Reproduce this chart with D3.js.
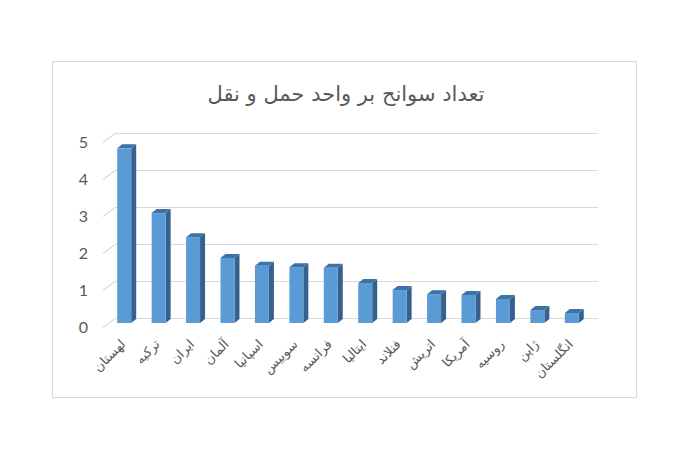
<!DOCTYPE html>
<html>
<head>
<meta charset="utf-8">
<script src="https://cdn.jsdelivr.net/npm/d3@7"></script>
<style>
  html, body { margin: 0; padding: 0; background: #fff; }
  svg { display: block; }
</style>
</head>
<body>
<svg id="chart"></svg>
<script>
const width = 700;
const height = 461;

// داده‌ها
const countries = ["لهستان", "ترکیه", "ایران", "آلمان", "اسپانیا", "سوییس", "فرانسه",
  "ایتالیا", "فنلاند", "اتریش", "آمریکا", "روسیه", "ژاپن", "انگلستان"];
const accidents = [4.72, 2.97, 2.32, 1.76, 1.55, 1.51, 1.49, 1.08, 0.89, 0.78, 0.76, 0.65, 0.35, 0.27];
const yTicks = [0, 1, 2, 3, 4, 5];
const title = "تعداد سوانح بر واحد حمل و نقل";

const svg = d3.select("#chart")
  .attr("width", width)
  .attr("height", height);

// قاب نمودار
svg.append("rect")
  .attr("x", 52.5).attr("y", 61.5)
  .attr("width", 584).attr("height", 336)
  .attr("fill", "#fff")
  .attr("stroke", "#d9d9d9");

svg.append("text")
  .attr("x", 346).attr("y", 101)
  .attr("text-anchor", "middle")
  .attr("direction", "rtl")
  .attr("font-family", "DejaVu Sans")
  .attr("font-size", 21)
  .attr("fill", "#595959")
  .text(title);

// پرسپکتیو سه بعدی
const depthX = 12, depthY = 9;

// مقیاس‌ها (صفحه پشتی)
const y = d3.scaleLinear().domain([0, 5]).range([318, 133]);
const x = d3.scaleBand().domain(countries).range([107, 589]).paddingInner(0.594).paddingOuter(0.297);

// خطوط شبکه
const grid = svg.append("g");
for (const t of yTicks) {
  const yb = Math.round(y(t)) + 0.5;
  grid.append("polyline")
    .attr("points", [[103, yb + depthY], [103 + depthX, yb], [598, yb]].join(" "))
    .attr("fill", "none")
    .attr("stroke", "#d9d9d9")
    .attr("stroke-width", 1.2);
}

// محور عمودی
const yAxis = svg.append("g")
  .attr("transform", `translate(88, ${depthY})`)
  .call(d3.axisLeft(y).tickValues(yTicks).tickFormat(d3.format("d")).tickSize(0).tickPadding(0));
yAxis.select(".domain").remove();
yAxis.selectAll("text")
  .attr("font-family", "Lato, 'Liberation Sans', sans-serif")
  .attr("font-size", 16)
  .attr("fill", "#595959");

// میله‌ها
const front = 5;   // فاصله صفحه جلویی میله از صفحه پشتی
const bw = x.bandwidth();
const bdx = 5, bdy = 4;

const bars = svg.append("g").selectAll("g")
  .data(countries.map((c, i) => ({ c, v: accidents[i] })))
  .join("g");

bars.each(function (d) {
  const g = d3.select(this);
  const x0 = x(d.c);
  const yt = y(d.v) + front;
  const yb = y(0) + front;
  // وجه کناری
  g.append("path")
    .attr("d", `M${x0 + bw},${yt} L${x0 + bw + bdx},${yt - bdy} L${x0 + bw + bdx},${yb - bdy} L${x0 + bw},${yb} Z`)
    .attr("fill", "#36618e");
  // وجه بالایی
  g.append("path")
    .attr("d", `M${x0},${yt} L${x0 + bdx},${yt - bdy} L${x0 + bw + bdx},${yt - bdy} L${x0 + bw},${yt} Z`)
    .attr("fill", "#3f71a6");
  // وجه جلویی
  g.append("rect")
    .attr("x", x0).attr("y", yt)
    .attr("width", bw).attr("height", yb - yt)
    .attr("fill", "#5b9bd5");
});

// برچسب کشورها
svg.append("g").selectAll("text")
  .data(countries)
  .join("text")
  .attr("transform", d => `translate(${x(d) + bw / 2 + 2}, 345) rotate(-45)`)
  .attr("text-anchor", "start")
  .attr("direction", "rtl")
  .attr("font-family", "DejaVu Sans")
  .attr("font-size", 13)
  .attr("fill", "#595959")
  .text(d => d);
</script>
</body>
</html>
